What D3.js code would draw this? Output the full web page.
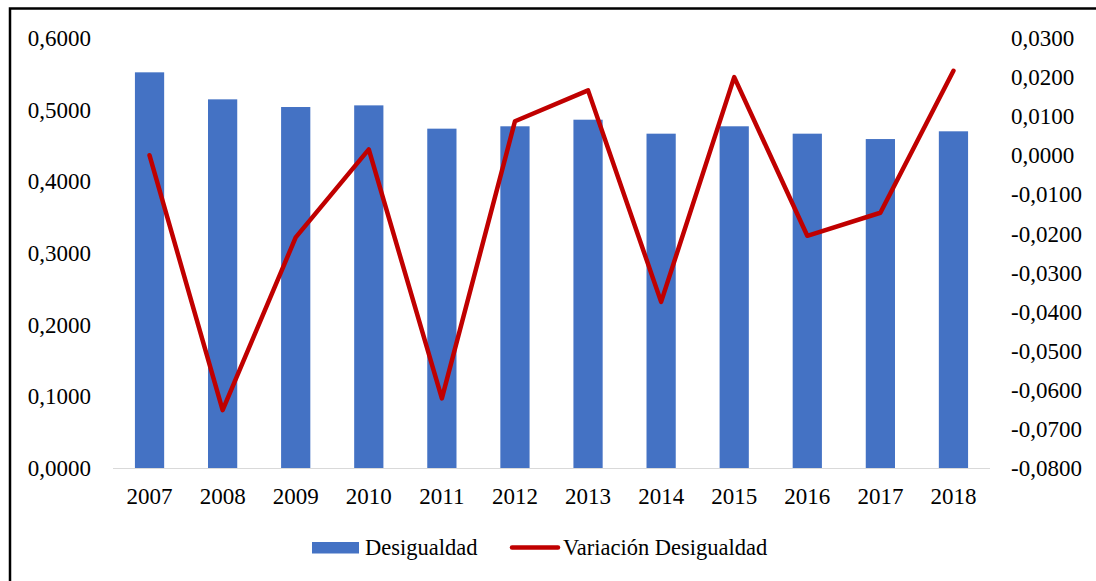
<!DOCTYPE html>
<html>
<head>
<meta charset="utf-8">
<script src="https://cdn.jsdelivr.net/npm/d3@7"></script>
<style>
  html, body { margin: 0; padding: 0; background: #fff; }
  svg { display: block; }
  text { font-family: "Liberation Serif", "Times New Roman", serif; fill: #000; }
</style>
</head>
<body>
<svg id="chart" width="1096" height="581"></svg>
<script>
const years = ["2007","2008","2009","2010","2011","2012","2013","2014","2015","2016","2017","2018"];
const desigualdad = [0.5521, 0.5144, 0.5037, 0.5060, 0.4735, 0.4768, 0.4860, 0.4665, 0.4768, 0.4665, 0.4590, 0.4698];
const variacion = [0.0000, -0.0652, -0.0210, 0.0015, -0.0622, 0.0087, 0.0166, -0.0375, 0.0200, -0.0206, -0.0147, 0.0216];
const leftTicks = [0, 0.1, 0.2, 0.3, 0.4, 0.5, 0.6];
const rightTicks = [-0.08, -0.07, -0.06, -0.05, -0.04, -0.03, -0.02, -0.01, 0, 0.01, 0.02, 0.03];
const seriesNames = ["Desigualdad", "Variación Desigualdad"];

const barColor = "#4472C4";
const lineColor = "#C00000";

const svg = d3.select("#chart");
const locale = d3.formatLocale({decimal: ",", thousands: ".", grouping: [3], currency: ["", ""], minus: "-"});
const fmt = locale.format(".4f");

const plotTop = 38, plotBottom = 468, plotLeft = 113, plotRight = 990;

const x = d3.scaleBand().domain(years).range([plotLeft, plotRight]).paddingInner(0.6).paddingOuter(0.3);
const yL = d3.scaleLinear().domain([0, 0.6]).range([plotBottom, plotTop]);
const yR = d3.scaleLinear().domain([-0.08, 0.03]).range([plotBottom, plotTop]);

// frame
svg.append("path")
  .attr("d", "M10,581 V8.5 H1096")
  .attr("fill", "none")
  .attr("stroke", "#000")
  .attr("stroke-width", 2.5);

// bars
svg.append("g").selectAll("rect")
  .data(years)
  .join("rect")
  .attr("x", d => x(d))
  .attr("width", x.bandwidth())
  .attr("y", (d, i) => yL(desigualdad[i]))
  .attr("height", (d, i) => yL(0) - yL(desigualdad[i]))
  .attr("fill", barColor);

// baseline
svg.append("line")
  .attr("x1", plotLeft).attr("x2", plotRight)
  .attr("y1", yL(0) + 0.5).attr("y2", yL(0) + 0.5)
  .attr("stroke", "#D9D9D9").attr("stroke-width", 1);

// left axis
const axL = svg.append("g")
  .attr("transform", "translate(91,0)")
  .call(d3.axisLeft(yL).tickValues(leftTicks).tickFormat(fmt).tickSize(0).tickPadding(0));
axL.select(".domain").remove();
axL.selectAll("text").style("font-size", "23px").style("font-family", "'Liberation Serif', serif").attr("fill", "#000").attr("dy", "0.33em");

// right axis
const axR = svg.append("g")
  .attr("transform", "translate(1011,0)")
  .call(d3.axisRight(yR).tickValues(rightTicks).tickFormat(fmt).tickSize(0).tickPadding(0));
axR.select(".domain").remove();
axR.selectAll("text").style("font-size", "23px").style("font-family", "'Liberation Serif', serif").attr("fill", "#000").attr("dy", "0.33em");

// bottom axis
const axB = svg.append("g")
  .attr("transform", `translate(0,${plotBottom})`)
  .call(d3.axisBottom(x).tickSize(0).tickPadding(0));
axB.select(".domain").remove();
axB.selectAll("text").style("font-size", "23px").style("font-family", "'Liberation Serif', serif").attr("fill", "#000").attr("dy", "36px");

// line
const line = d3.line()
  .x((d, i) => x(years[i]) + x.bandwidth() / 2)
  .y(d => yR(d));
svg.append("path")
  .datum(variacion)
  .attr("d", line)
  .attr("fill", "none")
  .attr("stroke", lineColor)
  .attr("stroke-width", 4.5)
  .attr("stroke-linejoin", "round")
  .attr("stroke-linecap", "round");

// legend
const leg = svg.append("g");
leg.append("rect").attr("x", 312).attr("y", 542).attr("width", 47).attr("height", 11.5).attr("fill", barColor);
leg.append("text").attr("x", 365).attr("y", 555).style("font-size", "22.5px").text(seriesNames[0]);
leg.append("line").attr("x1", 512).attr("x2", 558).attr("y1", 547.5).attr("y2", 547.5)
  .attr("stroke", lineColor).attr("stroke-width", 4.5).attr("stroke-linecap", "round");
leg.append("text").attr("x", 563).attr("y", 555).style("font-size", "22.5px").text(seriesNames[1]);
</script>
</body>
</html>
